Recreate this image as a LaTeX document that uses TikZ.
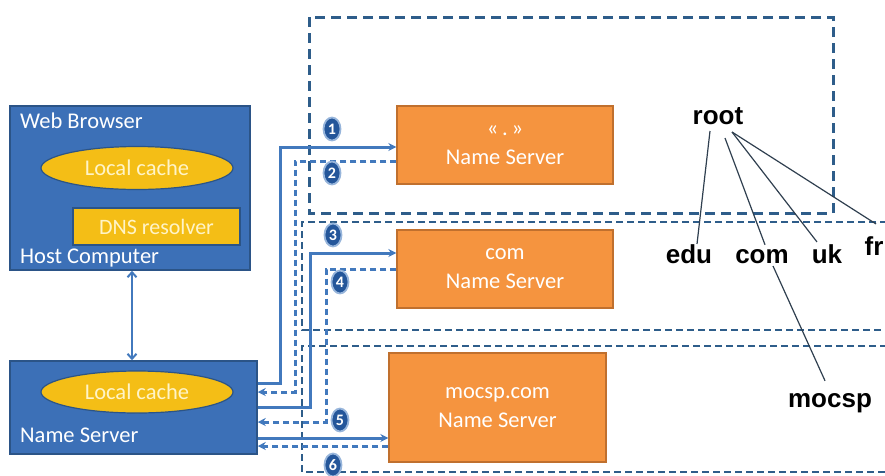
\documentclass[tikz,border=0pt]{standalone}
\usepackage{fontspec}
\setmainfont{Carlito}
\newfontfamily\arialfont{Liberation Sans}
\usetikzlibrary{arrows.meta,shapes.geometric,calc}
\definecolor{hostblue}{HTML}{3C70B7}
\definecolor{hostedge}{HTML}{2B5487}
\definecolor{cachey}{HTML}{F4BE16}
\definecolor{cachetxt}{HTML}{FFF4C8}
\definecolor{orng}{HTML}{F5943F}
\definecolor{orngedge}{HTML}{C0702E}
\definecolor{arrowblue}{HTML}{4279BD}
\definecolor{regionblue}{HTML}{2E5D8A}
\definecolor{badgeblue}{HTML}{24569A}
\definecolor{treeline}{HTML}{2F3F4F}
\tikzset{
  hostbox/.style={draw=hostedge, line width=1.5pt, fill=hostblue, inner sep=0pt},
  cache/.style={ellipse, draw=hostedge, line width=1.2pt, fill=cachey, text=cachetxt,
    font=\fontsize{22.5}{26}\selectfont, inner sep=0pt},
  resolver/.style={draw=hostedge, line width=1.2pt, fill=cachey, text=cachetxt,
    font=\fontsize{22}{26}\selectfont, inner sep=0pt},
  nsbox/.style={draw=orngedge, fill=orng, line width=1.3pt, text=white, align=center,
    font=\fontsize{22.5}{29}\selectfont, inner sep=0pt},
  wlabel/.style={text=white, anchor=west, inner sep=0pt, font=\fontsize{22.5}{26}\selectfont},
  region/.style={draw=regionblue, line width=3pt, dash pattern=on 10pt off 6pt},
  regiontwo/.style={draw=regionblue, line width=2.8pt, dash pattern=on 7pt off 4pt},
  req/.style={draw=arrowblue, line width=3pt, -{Stealth[length=8pt,width=8pt]}},
  resp/.style={req, dash pattern=on 6.5pt off 3.5pt},
  badge/.style={ellipse, fill=badgeblue, draw=arrowblue!55, line width=1.8pt, text=white,
    font=\bfseries\fontsize{16}{16}\selectfont, minimum width=17pt, minimum height=23pt, inner sep=0pt},
  treelabel/.style={anchor=base, inner sep=0pt, font=\arialfont\bfseries\fontsize{26}{26}\selectfont},
  treeedge/.style={draw=treeline, line width=1.2pt},
  dbl/.style={draw=arrowblue, line width=2pt, {Straight Barb[length=5pt,width=9pt]}-{Straight Barb[length=5pt,width=9pt]}}
}
\begin{document}
\begin{tikzpicture}[x=1pt,y=-1pt]
\useasboundingbox (0,0) rectangle (885,475);
% regions
\draw[region] (309,17) rectangle (833,213);
\draw[regiontwo] (887,222) -- (302,222) -- (302,330) -- (887,330);
\draw[regiontwo] (887,346) -- (302,346) -- (302,472) -- (887,472);

% host computer
\node[hostbox, minimum width=240pt, minimum height=164pt] (host) at (130,188) {};
\node[wlabel] (wb) at (20,121) {Web Browser};
\node[cache, minimum width=192pt, minimum height=43pt] (cache1) at (137,168) {Local cache};
\node[resolver, minimum width=167pt, minimum height=37pt] (dns) at (156.5,226.5) {DNS resolver};
\node[wlabel] (hc) at (20,258) {Host Computer};

% local name server
\node[hostbox, minimum width=247pt, minimum height=93pt] (ns) at (133.5,407.5) {};
\node[cache, minimum width=192pt, minimum height=42pt] (cache2) at (137,392) {Local cache};
\node[wlabel] (nsl) at (20,435) {Name Server};

% name servers
\node[nsbox, minimum width=216pt, minimum height=78pt] (rootns) at (505,145) {«\,.\,»\\Name Server};
\node[nsbox, minimum width=216pt, minimum height=78pt] (comns) at (505,269) {com\\Name Server};
\node[nsbox, minimum width=217pt, minimum height=109pt] (mocspns) at (497.5,407.5) {mocsp.com\\Name Server};

% double arrow
\draw[dbl] (host.south -| 132,0) -- (ns.north -| 132,0);

% queries and answers
\draw[req] (ns.east |- 0,383) -- (280,383) |- (rootns.west |- 0,147);
\draw[resp] (rootns.west |- 0,161) -- (295,161) |- (ns.east |- 0,392);
\draw[req] (ns.east |- 0,407) -- (310,407) |- (comns.west |- 0,253);
\draw[resp] (comns.west |- 0,269) -- (326,269) |- (ns.east |- 0,422);
\draw[req] (ns.east |- 0,438) -- (mocspns.west |- 0,438);
\draw[resp] (mocspns.west |- 0,446) -- (ns.east |- 0,446);

% badges
\node[badge] (b1) at (332,129) {1};
\node[badge] (b2) at (332,173) {2};
\node[badge] (b3) at (333,235) {3};
\node[badge] (b4) at (340,282) {4};
\node[badge] (b5) at (340,420) {5};
\node[badge] (b6) at (333,465) {6};

% tree
\node[treelabel] (root) at (718,124) {root};
\node[treelabel] (edu) at (689,263) {edu};
\node[treelabel] (com) at (762,263) {com};
\node[treelabel] (uk) at (827,263) {uk};
\node[treelabel] (fr) at (874,255) {fr};
\node[treelabel] (mocsp) at (830,407) {mocsp};
\draw[treeedge] ($(root.base)+(-8,7)$) -- ($(edu.north)+(8,0)$);
\draw[treeedge] ($(root.base)+(7,14)$) -- ($(com.north)+(3,-4)$);
\draw[treeedge] ($(root.base)+(14,8)$) -- ($(uk.north)+(-10,-2)$);
\draw[treeedge] ($(root.base)+(14,8)$) -- ($(fr.north)+(2,-12)$);
\draw[treeedge] ($(com.base)+(11,3)$) -- ($(mocsp.north)+(-5,-12)$);
\end{tikzpicture}
\end{document}
